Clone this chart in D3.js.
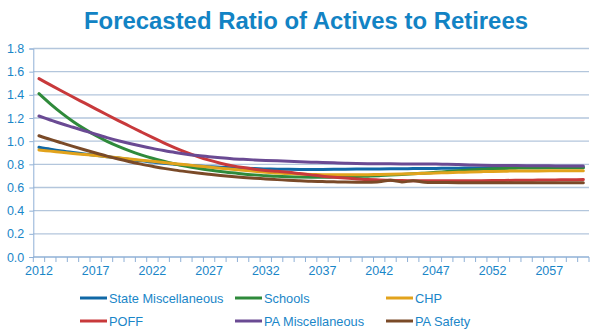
<!DOCTYPE html>
<html>
<head>
<meta charset="utf-8">
<script src="https://cdn.jsdelivr.net/npm/d3@7"></script>
<style>
  body { margin: 0; background: #fff; }
  text { font-family: "Liberation Sans", Arial, sans-serif; }
</style>
</head>
<body>
<div id="chart"></div>
<script>
/**
 * DATA
 * */
const years = d3.range(2012, 2061);
const yTicks = [0, 0.2, 0.4, 0.6, 0.8, 1.0, 1.2, 1.4, 1.6, 1.8];
const labelYears = [2012, 2017, 2022, 2027, 2032, 2037, 2042, 2047, 2052, 2057];

const stateMisc = [0.947, 0.930, 0.915, 0.902, 0.890, 0.878, 0.866, 0.854, 0.842, 0.830,
  0.820, 0.810, 0.801, 0.793, 0.786, 0.780, 0.775, 0.770, 0.766, 0.763,
  0.760, 0.758, 0.757, 0.756, 0.756, 0.756, 0.757, 0.758, 0.759, 0.760,
  0.760, 0.761, 0.762, 0.763, 0.764, 0.765, 0.766, 0.767, 0.768, 0.769,
  0.770, 0.771, 0.772, 0.773, 0.774, 0.774, 0.775, 0.775, 0.775];
const schools = [1.410, 1.322, 1.242, 1.170, 1.106, 1.049, 0.999, 0.955, 0.916, 0.882,
  0.852, 0.826, 0.803, 0.783, 0.766, 0.751, 0.738, 0.727, 0.717, 0.709,
  0.702, 0.697, 0.693, 0.690, 0.689, 0.689, 0.690, 0.692, 0.695, 0.698,
  0.702, 0.707, 0.712, 0.718, 0.724, 0.731, 0.738, 0.745, 0.751, 0.757,
  0.762, 0.765, 0.767, 0.768, 0.769, 0.770, 0.770, 0.771, 0.771];
const chp = [0.924, 0.914, 0.904, 0.894, 0.885, 0.876, 0.866, 0.856, 0.846, 0.836,
  0.826, 0.816, 0.806, 0.796, 0.786, 0.776, 0.766, 0.757, 0.748, 0.740,
  0.732, 0.725, 0.720, 0.716, 0.713, 0.711, 0.710, 0.710, 0.710, 0.711,
  0.712, 0.714, 0.716, 0.719, 0.722, 0.725, 0.728, 0.731, 0.734, 0.737,
  0.739, 0.741, 0.742, 0.743, 0.743, 0.744, 0.744, 0.744, 0.744];
const poff = [1.540, 1.486, 1.433, 1.381, 1.330, 1.279, 1.228, 1.178, 1.129, 1.080,
  1.032, 0.986, 0.943, 0.903, 0.867, 0.836, 0.810, 0.789, 0.772, 0.758,
  0.747, 0.740, 0.731, 0.720, 0.709, 0.698, 0.689, 0.681, 0.674, 0.669,
  0.665, 0.662, 0.660, 0.659, 0.658, 0.658, 0.658, 0.658, 0.659, 0.659,
  0.660, 0.661, 0.662, 0.663, 0.664, 0.665, 0.666, 0.667, 0.668];
const paMisc = [1.217, 1.183, 1.150, 1.120, 1.090, 1.060, 1.031, 1.004, 0.980, 0.958,
  0.938, 0.920, 0.903, 0.888, 0.876, 0.866, 0.857, 0.849, 0.843, 0.838,
  0.834, 0.830, 0.826, 0.822, 0.819, 0.816, 0.813, 0.810, 0.808, 0.806,
  0.805, 0.804, 0.803, 0.803, 0.803, 0.802, 0.800, 0.798, 0.795, 0.793,
  0.791, 0.790, 0.789, 0.788, 0.787, 0.787, 0.786, 0.786, 0.786];
const paSafety = [1.047, 1.015, 0.985, 0.955, 0.926, 0.898, 0.871, 0.846, 0.823, 0.802,
  0.783, 0.765, 0.750, 0.737, 0.725, 0.714, 0.704, 0.695, 0.687, 0.680,
  0.674, 0.668, 0.663, 0.658, 0.654, 0.651, 0.649, 0.647, 0.646, 0.646,
  0.650, 0.662, 0.648, 0.658, 0.645, 0.643, 0.643, 0.642, 0.642, 0.642,
  0.641, 0.641, 0.641, 0.641, 0.641, 0.641, 0.641, 0.641, 0.641];

const series = [
  { name: "State Miscellaneous", values: stateMisc, color: "#1068a6" },
  { name: "Schools", values: schools, color: "#2f8a3b" },
  { name: "CHP", values: chp, color: "#e2a31c" },
  { name: "POFF", values: poff, color: "#c8393b" },
  { name: "PA Miscellaneous", values: paMisc, color: "#6a4a93" },
  { name: "PA Safety", values: paSafety, color: "#7a4a28" }
];

/**
 * CONSTANTS
 * */
const width = 599,
  height = 335,
  margin = { top: 48.5, bottom: 78, left: 33.3, right: 10 };

const textBlue = "#1a86c8";

const svg = d3.select("#chart")
  .append("svg")
  .attr("width", width)
  .attr("height", height);

// SCALES
const xScale = d3.scaleBand()
  .domain(years)
  .range([margin.left, width - margin.right])
  .paddingInner(0)
  .paddingOuter(0);

const yScale = d3.scaleLinear()
  .domain([0, 1.8])
  .range([height - margin.bottom, margin.top]);

const bw = xScale.bandwidth();
const plotRight = width - margin.right;

// title
svg.append("text")
  .attr("x", 306)
  .attr("y", 29)
  .attr("text-anchor", "middle")
  .attr("fill", "#1283c4")
  .attr("font-size", 23)
  .attr("font-weight", "bold")
  .attr("textLength", 444)
  .attr("lengthAdjust", "spacingAndGlyphs")
  .text("Forecasted Ratio of Actives to Retirees");

// gridlines
svg.append("g")
  .selectAll("line")
  .data(yTicks.filter(d => d > 0))
  .join("line")
  .attr("x1", margin.left)
  .attr("x2", plotRight)
  .attr("y1", d => yScale(d))
  .attr("y2", d => yScale(d))
  .attr("stroke", "#b3c6dc")
  .attr("stroke-width", 1.3);

// y axis
const yAxis = d3.axisLeft(yScale)
  .tickValues(yTicks)
  .tickFormat(d3.format(".1f"))
  .tickSize(4)
  .tickPadding(5);

svg.append("g")
  .attr("transform", `translate(${margin.left},0)`)
  .call(yAxis)
  .call(g => g.select(".domain").attr("stroke", "#8fb0d6"))
  .call(g => g.selectAll(".tick line").attr("stroke", "#8fb0d6"))
  .call(g => g.selectAll(".tick text")
    .attr("fill", textBlue)
    .attr("font-size", 12.5)
    .attr("font-family", "Liberation Sans, Arial, sans-serif"));

// x axis line and tick marks at category boundaries
const xg = svg.append("g");
xg.append("line")
  .attr("x1", margin.left)
  .attr("x2", plotRight)
  .attr("y1", yScale(0))
  .attr("y2", yScale(0))
  .attr("stroke", "#8fb0d6")
  .attr("stroke-width", 1.3);

xg.selectAll(".xtick")
  .data(years.concat([null]))
  .join("line")
  .attr("class", "xtick")
  .attr("x1", d => d === null ? plotRight : xScale(d))
  .attr("x2", d => d === null ? plotRight : xScale(d))
  .attr("y1", yScale(0))
  .attr("y2", yScale(0) + 5)
  .attr("stroke", "#8fb0d6");

const xAxis = d3.axisBottom(xScale)
  .tickValues(labelYears)
  .tickSize(0)
  .tickPadding(9);

svg.append("g")
  .attr("transform", `translate(0,${yScale(0)})`)
  .call(xAxis)
  .call(g => g.select(".domain").remove())
  .call(g => g.selectAll(".tick text")
    .attr("fill", textBlue)
    .attr("font-size", 12.5)
    .attr("font-family", "Liberation Sans, Arial, sans-serif"));

// LINES
const line = d3.line()
  .x((d, i) => xScale(years[i]) + bw / 2)
  .y(d => yScale(d))
  .curve(d3.curveCatmullRom.alpha(0.5));

svg.append("g")
  .selectAll("path")
  .data(series)
  .join("path")
  .attr("d", d => line(d.values))
  .attr("fill", "none")
  .attr("stroke", d => d.color)
  .attr("stroke-width", 3)
  .attr("stroke-linecap", "round");

// LEGEND
const legendCols = [80, 235, 386];
const legendRows = [298, 321];

const legend = svg.append("g")
  .selectAll("g")
  .data(series)
  .join("g")
  .attr("transform", (d, i) => `translate(${legendCols[i % 3]},${legendRows[Math.floor(i / 3)]})`);

legend.append("line")
  .attr("x1", 0)
  .attr("x2", 27)
  .attr("stroke", d => d.color)
  .attr("stroke-width", 3);

legend.append("text")
  .attr("x", 29)
  .attr("dy", "0.36em")
  .attr("fill", textBlue)
  .attr("font-size", 12.8)
  .text(d => d.name);
</script>
</body>
</html>
